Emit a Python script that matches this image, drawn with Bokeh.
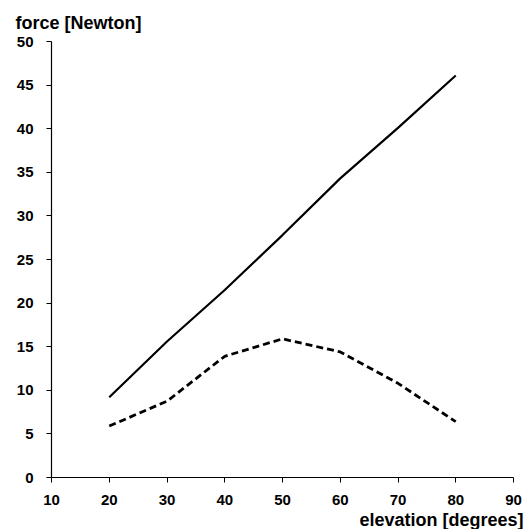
from bokeh.plotting import figure
from bokeh.models import Range1d, FixedTicker, Title
from bokeh.embed import file_html
from bokeh.resources import INLINE

elevation = [20, 30, 40, 50, 60, 70, 80]
force_solid = [9.2, 15.6, 21.5, 27.8, 34.3, 40.1, 46.1]
force_dashed = [5.9, 8.75, 13.9, 15.9, 14.4, 10.8, 6.4]
x_ticks = [10, 20, 30, 40, 50, 60, 70, 80, 90]
y_ticks = [0, 5, 10, 15, 20, 25, 30, 35, 40, 45, 50]

FONT = "Liberation Sans"

p = figure(width=530, height=529, output_backend="svg", toolbar_location=None,
           x_range=Range1d(10, 90), y_range=Range1d(0, 50),
           min_border_left=51, min_border_right=17, min_border_top=41, min_border_bottom=51)
p.outline_line_color = None
p.xgrid.grid_line_color = None
p.ygrid.grid_line_color = None
p.background_fill_color = "white"
p.border_fill_color = "white"

p.line(elevation, force_solid, line_color="black", line_width=2.2)
p.line(elevation, force_dashed, line_color="black", line_width=2.8, line_dash="7 4")

for ax, ticks in ((p.xaxis[0], x_ticks), (p.yaxis[0], y_ticks)):
    ax.ticker = FixedTicker(ticks=ticks)
    ax.minor_tick_line_color = None
    ax.major_tick_in = 0
    ax.major_tick_out = 5
    ax.axis_line_color = "black"
    ax.axis_line_width = 1.2
    ax.major_tick_line_color = "black"
    ax.major_label_text_font = FONT
    ax.major_label_text_font_style = "bold"
    ax.major_label_text_font_size = "15px"
    ax.major_label_text_color = "black"
p.xaxis.major_label_standoff = 12
p.yaxis.major_label_standoff = 13

p.title.text = "force [Newton]"
p.title.align = "left"
p.title.offset = -36
p.title.text_font = FONT
p.title.text_font_style = "bold"
p.title.text_font_size = "18px"
p.title.text_color = "black"
p.title.standoff = 17

xt = Title(text="elevation [degrees]", align="right", offset=-10,
           text_font=FONT, text_font_style="bold", text_font_size="18px",
           text_color="black", standoff=0)
p.add_layout(xt, "below")

open("out.html", "w").write(file_html(p, INLINE))
